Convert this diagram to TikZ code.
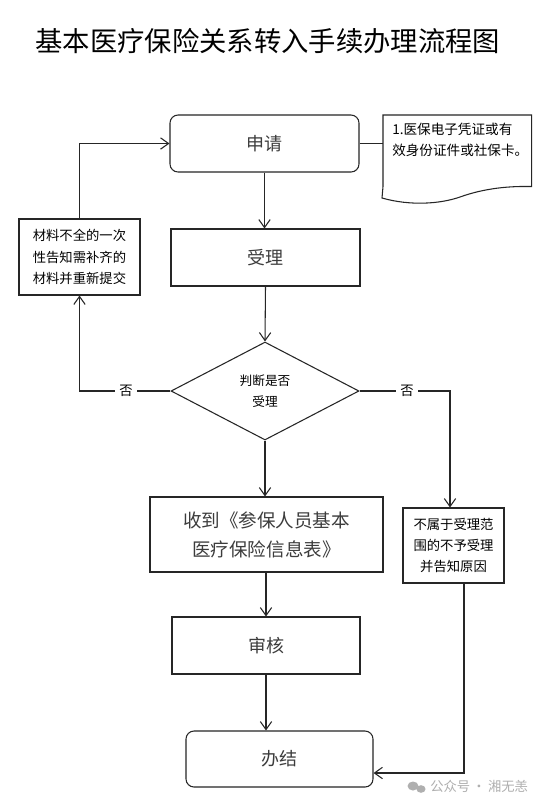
\documentclass[tikz,border=0pt]{standalone}
\usepackage{fontspec}
\setmainfont{Noto Sans CJK SC}
\usetikzlibrary{arrows.meta,shapes.geometric}
\definecolor{txtgray}{RGB}{60,60,60}
\definecolor{wmgray}{RGB}{175,175,175}
\tikzset{
  pic/.style={x=0.75pt,y=-0.75pt},
  ln/.style={draw=black!85,line width=0.8pt},
  arr/.style={ln,-{Straight Barb[length=6pt,width=8.5pt,line width=0.8pt]}},
  bigbox/.style={ln,rectangle,inner sep=0pt,font=\fontsize{13.5pt}{16pt}\selectfont,text=txtgray},
  rbox/.style={bigbox,rounded corners=6pt},
  smallbox/.style={ln,rectangle,inner sep=0pt,align=center,font=\fontsize{10pt}{16pt}\selectfont},
  lbl/.style={fill=white,inner sep=3pt,font=\fontsize{10pt}{12pt}\selectfont},
}
\begin{document}
\begin{tikzpicture}[pic]
\useasboundingbox (0,0) rectangle (555,808);
\fill[white] (0,0) rectangle (555,808);
% title
\node[font=\fontsize{20.5pt}{24pt}\selectfont] (title) at (268,41) {基本医疗保险关系转入手续办理流程图};
% nodes
\node[rbox,minimum width=141.75pt,minimum height=42.75pt] (apply) at (264.5,143.5) {申请};
\node[bigbox,minimum width=141.75pt,minimum height=42.75pt] (accept) at (265.5,257.5) {受理};
\node[ln,diamond,inner sep=0pt,minimum width=141pt,minimum height=73.5pt,align=center,font=\fontsize{9.5pt}{15.75pt}\selectfont] (dia) at (265,391) {判断是否\\受理};
\node[smallbox,minimum width=90.75pt,minimum height=57pt] (more) at (79.5,257) {材料不全的一次\\性告知需补齐的\\材料并重新提交};
\node[bigbox,align=center,font=\fontsize{13.9pt}{21.75pt}\selectfont,minimum width=174.75pt,minimum height=56.25pt] (receive) at (266.5,534.5) {收到《参保人员基本\\医疗保险信息表》};
\node[bigbox,minimum width=141pt,minimum height=42.75pt] (review) at (266,645.5) {审核};
\node[rbox,minimum width=140.25pt,minimum height=42pt] (done) at (279.5,759) {办结};
\node[smallbox,minimum width=75.75pt,minimum height=56.25pt] (reject) at (453.5,545.5) {不属于受理范\\围的不予受理\\并告知原因};
% document shape
\node[rectangle,inner sep=0pt,minimum width=111pt,minimum height=53.25pt,anchor=north west] (doc) at (383,115) {};
\draw[ln] (doc.south west) -- (doc.north west) -- (doc.north east) -- (doc.south east)
  .. controls (510,186) and (485,188) .. (460,197)
  .. controls (440,204) and (410,206) .. (382,198) -- (doc.south west);
\node[anchor=north west,inner sep=0pt,align=left,font=\fontsize{10.2pt}{15.75pt}\selectfont] (doctext) at (392,123) {1.医保电子凭证或有\\效身份证件或社保卡。};
% connectors
\draw[ln] (apply.east) -- (apply.east -| doc.west);
\draw[arr] (apply.south) -- (apply.south |- accept.north);
\draw[arr] (accept.south) -- (dia.north);
\draw[arr] (dia.south) -- (dia.south |- receive.north);
\draw[arr] (review.north |- receive.south) -- (review.north);
\draw[arr] (review.south) -- (review.south |- done.north);
\draw[arr] (dia.west) -| (more.south);
\draw[arr] (more.north) |- (apply.west);
\coordinate (rv) at (450,391);
\draw[arr] (dia.east) -- (rv) -- (rv |- reject.north);
\coordinate (c1) at (464,773);
\draw[arr] (reject.south -| c1) -- (c1) -- (c1 -| done.east);
\node[lbl] (no1) at (126,391) {否};
\node[lbl] (no2) at (407,391) {否};
% watermark
\fill[wmgray] (413,786) ellipse [x radius=5.5, y radius=4.5];
\fill[wmgray] (421,789) ellipse [x radius=4.5, y radius=3.8];
\node[text=wmgray,anchor=west,inner sep=0pt,font=\fontsize{10pt}{12pt}\selectfont] (wm) at (430,786) {公众号\,·\,湘无恙};
\end{tikzpicture}
\end{document}
